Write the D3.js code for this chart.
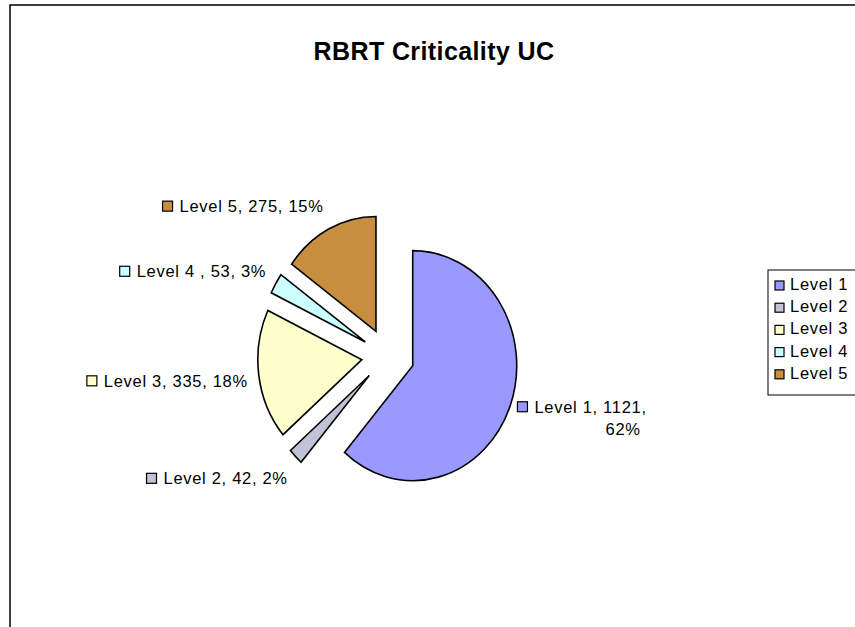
<!DOCTYPE html>
<html>
<head>
<meta charset="utf-8">
<script src="https://cdn.jsdelivr.net/npm/d3@7/dist/d3.min.js"></script>
<style>
  body { margin: 0; background: #fff; }
  text { font-family: "Liberation Sans", Arial, sans-serif; fill: #000; }
</style>
</head>
<body>
<script>
// data
const categories = ["Level 1", "Level 2", "Level 3", "Level 4 ", "Level 5"];
const values = [1121, 42, 335, 53, 275];
const percents = [62, 2, 18, 3, 15];
const colors = ["#9999FF", "#C0C3D6", "#FFFFCC", "#CCFFFF", "#C88E40"];
const chartTitle = "RBRT Criticality UC";

const width = 855, height = 627;
const cx = 388, cy = 356, ry = 115, rx = 104;
const explodeX = 26.4, explodeY = 27.6;
const fontSize = 16.5;

const svg = d3.select("body").append("svg")
    .attr("width", width)
    .attr("height", height);

// chart frame (runs off the right and bottom)
svg.append("rect")
    .attr("x", 10).attr("y", 5)
    .attr("width", width + 20).attr("height", height + 20)
    .attr("fill", "none")
    .attr("stroke", "#000")
    .attr("stroke-width", 1.5);

svg.append("text")
    .attr("x", 434).attr("y", 60)
    .attr("text-anchor", "middle")
    .style("font-size", "25px")
    .style("font-weight", "bold")
    .style("letter-spacing", "0.4px")
    .text(chartTitle);

const pie = d3.pie().sort(null).value(d => d.value);
const data = categories.map((c, i) => ({name: c, value: values[i], pct: percents[i], color: colors[i]}));
const arcs = pie(data);

const arc = d3.arc().innerRadius(0).outerRadius(ry);

const slices = svg.append("g").selectAll(".slice")
    .data(arcs)
    .enter().append("g")
    .attr("class", "slice")
    .attr("transform", function (d) {
        const mid = (d.startAngle + d.endAngle) / 2;
        return "translate(" + (cx + explodeX * Math.sin(mid)) + "," + (cy - explodeY * Math.cos(mid)) + ")";
    });

slices.append("path")
    .attr("d", arc)
    .attr("transform", "scale(" + (rx / ry) + ",1)")
    .attr("fill", d => d.data.color)
    .attr("stroke", "#000")
    .attr("stroke-width", 1.6)
    .attr("stroke-linejoin", "miter")
    .attr("vector-effect", "non-scaling-stroke");

// data labels, placed just outside each slice along its bisector
const labels = svg.append("g");
arcs.forEach(function (d) {
    const mid = (d.startAngle + d.endAngle) / 2;
    const dx = Math.sin(mid), dy = -Math.cos(mid);
    const ox = cx + explodeX * dx + (rx + 11) * dx;
    const oy = cy + explodeY * dy + (ry + 12) * dy;
    const g = labels.append("g");
    let lines = [d.data.name + ", " + d.data.value + ", " + d.data.pct + "%"];
    if (dx > 0) lines = [d.data.name + ", " + d.data.value + ",", d.data.pct + "%"];
    const base = oy + 8 + 16 * dy - (lines.length - 1) * 11;
    const texts = lines.map((l, j) => g.append("text")
        .attr("y", base + j * 22)
        .style("font-size", fontSize + "px")
        .style("letter-spacing", "0.7px")
        .text(l));
    const w = texts[0].node().getComputedTextLength();
    const left = dx > 0 ? ox - 3 : ox - w - 17;
    texts[0].attr("x", left + 17);
    if (texts[1]) {
        const w2 = texts[1].node().getComputedTextLength();
        texts[1].attr("x", left + 17 + w - w2 - 6);
    }
    g.append("rect")
        .attr("x", left).attr("y", base - 11)
        .attr("width", 10).attr("height", 10)
        .attr("fill", d.data.color)
        .attr("stroke", "#000")
        .attr("stroke-width", 1.2);
});

// legend
const legend = svg.append("g").attr("transform", "translate(768,270)");
legend.append("rect")
    .attr("x", 0).attr("y", 0)
    .attr("width", 120).attr("height", 125)
    .attr("fill", "#fff")
    .attr("stroke", "#000")
    .attr("stroke-width", 1);

const items = legend.selectAll(".item")
    .data(data)
    .enter().append("g")
    .attr("class", "item")
    .attr("transform", (d, i) => "translate(0," + (20 + i * 22.2) + ")");

items.append("rect")
    .attr("x", 7).attr("y", -9)
    .attr("width", 9).attr("height", 9)
    .attr("fill", d => d.color)
    .attr("stroke", "#000")
    .attr("stroke-width", 1.2);

items.append("text")
    .attr("x", 22).attr("y", 0)
    .style("font-size", fontSize + "px")
    .style("letter-spacing", "0.7px")
    .text(d => d.name);
</script>
</body>
</html>
